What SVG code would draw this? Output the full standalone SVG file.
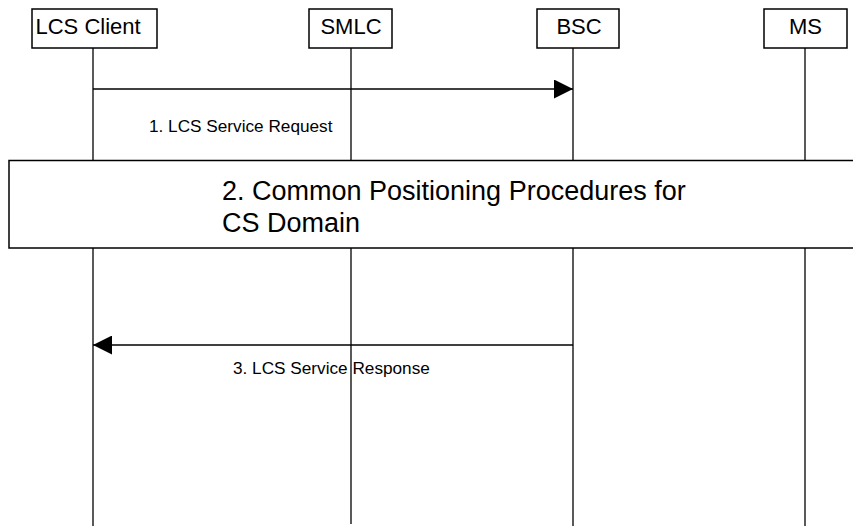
<svg xmlns="http://www.w3.org/2000/svg" width="853" height="526" viewBox="0 0 853 526">
<style>
.box{fill:#fff;stroke:#000;stroke-width:1.5}
.life{stroke:#000;stroke-width:1.3;fill:none}
.msg{stroke:#000;stroke-width:1.3;fill:none}
.hdr{font-family:"Liberation Sans",Arial,sans-serif;font-size:22px;fill:#000}
.lbl{font-family:"Liberation Sans",Arial,sans-serif;font-size:17.2px;fill:#000}
.big{font-family:"Liberation Sans",Arial,sans-serif;font-size:27px;fill:#000}
</style>
<defs>
<marker id="ah" markerWidth="19" markerHeight="19" viewBox="0 0 19 19" refX="19" refY="9.5" orient="auto" markerUnits="userSpaceOnUse">
<path d="M0,0 L19,9.5 L0,19 Z" fill="#000"/>
</marker>
</defs>
<rect width="853" height="526" fill="#fff"/>
<g id="lifelines">
<line class="life" x1="93" y1="48" x2="93" y2="526"/>
<line class="life" x1="351" y1="48" x2="351" y2="524"/>
<line class="life" x1="573" y1="48" x2="573" y2="526"/>
<line class="life" x1="805" y1="48" x2="805" y2="526"/>
</g>
<g id="node-lcs-client">
<rect class="box" x="32" y="9" width="125" height="39"/>
<text class="hdr" x="35.5" y="33.5">LCS Client</text>
</g>
<g id="node-smlc">
<rect class="box" x="309" y="9" width="83" height="39"/>
<text class="hdr" x="351" y="33.5" text-anchor="middle">SMLC</text>
</g>
<g id="node-bsc">
<rect class="box" x="537" y="9" width="82" height="39"/>
<text class="hdr" x="579" y="33.5" text-anchor="middle">BSC</text>
</g>
<g id="node-ms">
<rect class="box" x="764" y="9" width="83" height="39"/>
<text class="hdr" x="805.5" y="33.5" text-anchor="middle">MS</text>
</g>
<g id="node-procedures">
<rect class="box" x="9" y="160.5" width="850" height="87.5"/>
<text class="big" x="222" y="200">2. Common Positioning Procedures for</text>
<text class="big" x="222" y="232">CS Domain</text>
</g>
<g id="connectors">
<line class="msg" x1="93" y1="89" x2="573" y2="89" marker-end="url(#ah)"/>
<text class="lbl" x="149" y="132">1. LCS Service Request</text>
<line class="msg" x1="573" y1="345" x2="93" y2="345" marker-end="url(#ah)"/>
<text class="lbl" x="233" y="374">3. LCS Service Response</text>
</g>
</svg>
